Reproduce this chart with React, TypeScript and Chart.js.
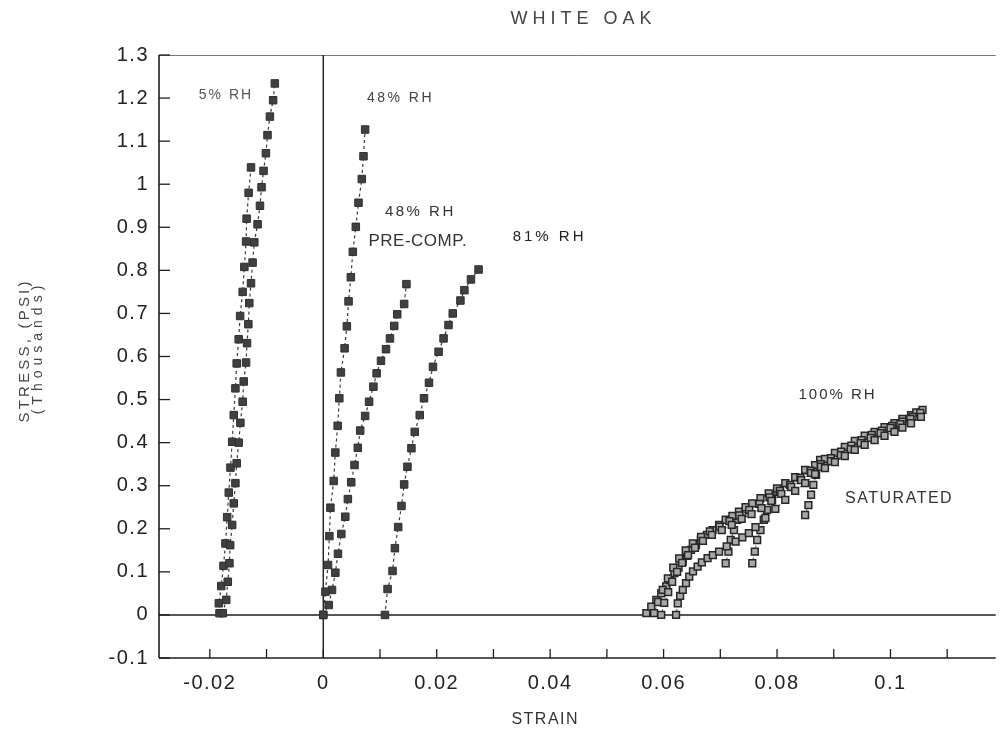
import { useEffect, useRef } from "react";
import { Chart, registerables } from "chart.js";

Chart.register(...registerables);

type P = [number, number];

// ---- data (strain, stress in thousands psi) ----
const RH5_A: P[] = [
  [-0.01771, 0.004], [-0.01711, 0.035], [-0.01683, 0.077], [-0.01654, 0.12], [-0.01641, 0.162],
  [-0.01606, 0.209], [-0.01578, 0.259], [-0.01549, 0.306], [-0.01526, 0.352], [-0.01491, 0.4],
  [-0.01461, 0.446], [-0.01421, 0.495], [-0.01403, 0.542], [-0.01361, 0.586], [-0.01344, 0.631],
  [-0.01321, 0.675], [-0.01304, 0.724], [-0.01274, 0.77], [-0.01246, 0.818], [-0.01216, 0.865],
  [-0.01158, 0.907], [-0.01116, 0.95], [-0.01088, 0.993], [-0.01053, 1.031], [-0.01011, 1.072],
  [-0.00983, 1.114], [-0.00941, 1.157], [-0.00884, 1.195], [-0.00854, 1.234],
];
const RH5_B: P[] = [
  [-0.01829, 0.004], [-0.01841, 0.027], [-0.01799, 0.067], [-0.01759, 0.114], [-0.01724, 0.166],
  [-0.01694, 0.227], [-0.01666, 0.284], [-0.01636, 0.342], [-0.01606, 0.402], [-0.01578, 0.464],
  [-0.01549, 0.526], [-0.01526, 0.584], [-0.01491, 0.64], [-0.01466, 0.694], [-0.01421, 0.75],
  [-0.01391, 0.808], [-0.01361, 0.867], [-0.01351, 0.92], [-0.01316, 0.98], [-0.01274, 1.039],
];
const RH48: P[] = [
  [0, 0], [0.00038, 0.054], [0.00084, 0.116], [0.00108, 0.183], [0.00126, 0.249], [0.00184, 0.311],
  [0.00213, 0.377], [0.00254, 0.439], [0.00283, 0.503], [0.00311, 0.563], [0.00376, 0.619],
  [0.00416, 0.67], [0.00446, 0.728], [0.00486, 0.784], [0.00521, 0.843], [0.00574, 0.901],
  [0.00621, 0.957], [0.00679, 1.012], [0.00709, 1.065], [0.00738, 1.127],
];
const RH48_PRE: P[] = [
  [0, 0], [0.00096, 0.023], [0.00154, 0.058], [0.00213, 0.098], [0.00259, 0.142], [0.00318, 0.188],
  [0.00388, 0.228], [0.00434, 0.269], [0.00493, 0.308], [0.00551, 0.348], [0.00609, 0.388],
  [0.00651, 0.428], [0.00738, 0.462], [0.00808, 0.495], [0.00884, 0.53], [0.00941, 0.561],
  [0.01018, 0.59], [0.01106, 0.617], [0.01176, 0.642], [0.01251, 0.671], [0.01304, 0.698],
  [0.01426, 0.722], [0.01466, 0.768],
];
const RH81: P[] = [
  [0.01088, 0], [0.01134, 0.06], [0.01221, 0.102], [0.01263, 0.155], [0.01321, 0.204],
  [0.01379, 0.253], [0.01426, 0.303], [0.01484, 0.344], [0.01554, 0.387], [0.01613, 0.425],
  [0.01701, 0.464], [0.01776, 0.503], [0.01864, 0.539], [0.01934, 0.576], [0.02033, 0.611],
  [0.02121, 0.642], [0.02208, 0.673], [0.02283, 0.7], [0.02418, 0.73], [0.02488, 0.754],
  [0.02604, 0.779], [0.02738, 0.802],
];
const SAT_UPPER: P[] = [
  [0.05696, 0.004], [0.05783, 0.019], [0.05871, 0.035], [0.05958, 0.05], [0.06045, 0.066],
  [0.06115, 0.081], [0.06191, 0.097], [0.06264, 0.11], [0.06338, 0.124], [0.06413, 0.137],
  [0.06483, 0.151], [0.0657, 0.162], [0.06658, 0.174], [0.06763, 0.186], [0.06863, 0.197],
  [0.06978, 0.209], [0.07095, 0.221], [0.07213, 0.23], [0.07328, 0.24], [0.07445, 0.25],
  [0.07563, 0.259], [0.07708, 0.271], [0.07853, 0.282], [0.08, 0.294], [0.08145, 0.306],
  [0.0832, 0.32], [0.08495, 0.337], [0.0867, 0.348], [0.08845, 0.362], [0.0902, 0.376],
  [0.09195, 0.39], [0.0937, 0.404], [0.09545, 0.416], [0.0972, 0.425], [0.09895, 0.436],
  [0.1007, 0.445], [0.1021, 0.455], [0.10362, 0.464], [0.10455, 0.47], [0.10565, 0.476],
];
const SAT_MID: P[] = [
  [0.05958, 0], [0.06011, 0.028], [0.06081, 0.053], [0.06151, 0.077], [0.06238, 0.1],
  [0.06326, 0.121], [0.06431, 0.139], [0.06553, 0.156], [0.06693, 0.172], [0.06851, 0.186],
  [0.07026, 0.197], [0.07201, 0.209], [0.07376, 0.223], [0.0755, 0.234], [0.07725, 0.248],
  [0.079, 0.265], [0.08075, 0.281], [0.0825, 0.297], [0.08425, 0.313], [0.086, 0.33],
  [0.08775, 0.344], [0.0895, 0.357], [0.09125, 0.371], [0.093, 0.385], [0.09475, 0.399],
  [0.0965, 0.411], [0.09825, 0.422], [0.1, 0.434], [0.10175, 0.443], [0.1035, 0.455],
  [0.10525, 0.469],
];
const SAT_INNER: P[] = [
  [0.05832, 0.004], [0.05902, 0.03], [0.05985, 0.058], [0.06075, 0.085], [0.0617, 0.11],
  [0.06275, 0.131], [0.0639, 0.15], [0.06515, 0.166], [0.0666, 0.181], [0.06815, 0.194],
  [0.06985, 0.205], [0.0716, 0.218], [0.07335, 0.231], [0.0751, 0.244], [0.0769, 0.258],
  [0.0787, 0.273], [0.0805, 0.288], [0.0823, 0.302], [0.0841, 0.318], [0.0859, 0.335],
  [0.0877, 0.35], [0.0895, 0.364], [0.0913, 0.379], [0.0931, 0.393], [0.0949, 0.406],
  [0.0967, 0.418], [0.0985, 0.428], [0.1003, 0.439], [0.1021, 0.449], [0.1039, 0.46],
];
const SAT_LOWER: P[] = [
  [0.0622, 0], [0.0625, 0.027], [0.06291, 0.044], [0.06338, 0.058], [0.06395, 0.074],
  [0.06453, 0.089], [0.06518, 0.101], [0.066, 0.112], [0.06675, 0.122], [0.06775, 0.132],
  [0.06868, 0.139], [0.06978, 0.147], [0.07113, 0.159], [0.0727, 0.17], [0.07388, 0.18],
  [0.07503, 0.19], [0.0762, 0.204], [0.07795, 0.225], [0.0797, 0.246], [0.08145, 0.267],
  [0.0832, 0.288], [0.08495, 0.306], [0.0867, 0.327], [0.08845, 0.341], [0.0902, 0.355],
  [0.09195, 0.369], [0.0937, 0.383], [0.09545, 0.395], [0.0972, 0.406], [0.09895, 0.416],
  [0.1007, 0.425], [0.1021, 0.435], [0.10362, 0.445], [0.10537, 0.46],
];
const SAT_BRANCH_1: P[] = [
  [0.07095, 0.12], [0.07143, 0.147], [0.07183, 0.174], [0.07241, 0.197], [0.073, 0.221], [0.07388, 0.236],
];
const SAT_BRANCH_2: P[] = [
  [0.07563, 0.12], [0.07608, 0.147], [0.0765, 0.174], [0.07708, 0.197], [0.07766, 0.221],
  [0.07825, 0.244], [0.07913, 0.267], [0.08, 0.286],
];
const SAT_BRANCH_3: P[] = [
  [0.08495, 0.232], [0.08553, 0.255], [0.086, 0.279], [0.0864, 0.302], [0.08688, 0.325],
  [0.08728, 0.348], [0.0876, 0.36],
];

const X_TICKS = [-0.02, -0.01, 0, 0.01, 0.02, 0.03, 0.04, 0.05, 0.06, 0.07, 0.08, 0.09, 0.1, 0.11];
const X_TICK_LABELS = ["-0.02", "", "0", "", "0.02", "", "0.04", "", "0.06", "", "0.08", "", "0.1", ""];
const Y_TICKS = [-0.1, 0, 0.1, 0.2, 0.3, 0.4, 0.5, 0.6, 0.7, 0.8, 0.9, 1, 1.1, 1.2, 1.3];
const Y_TICK_LABELS = ["-0.1", "0", "0.1", "0.2", "0.3", "0.4", "0.5", "0.6", "0.7", "0.8", "0.9", "1", "1.1", "1.2", "1.3"];

const X_MIN = -0.02896;
const X_MAX = 0.11855;
const Y_MIN = -0.1;
const Y_MAX = 1.3;

const TITLE = "WHITE OAK";
const X_TITLE = "STRAIN";
const Y_TITLE_1 = "STRESS, (PSI)";
const Y_TITLE_2 = "(Thousands)";

type Note = { text: string; x: number; y: number; size: number; spacing: number; color: string };
const NOTES: Note[] = [
  { text: "5% RH", x: -0.01733, y: 1.207, size: 14, spacing: 2, color: "#555" },
  { text: "48% RH", x: 0.01339, y: 1.2, size: 14, spacing: 2.5, color: "#444" },
  { text: "48% RH", x: 0.01689, y: 0.936, size: 15, spacing: 2.5, color: "#333" },
  { text: "PRE-COMP.", x: 0.01662, y: 0.868, size: 17, spacing: 0.5, color: "#333" },
  { text: "81% RH", x: 0.03963, y: 0.877, size: 15, spacing: 3, color: "#222" },
  { text: "100% RH", x: 0.0905, y: 0.512, size: 15, spacing: 2, color: "#333" },
  { text: "SATURATED", x: 0.10139, y: 0.27, size: 16, spacing: 1.5, color: "#333" },
];

const toPts = (arr: P[]) => arr.map(([x, y]) => ({ x, y }));

const solidStyle = {
  showLine: true,
  borderColor: "#3a3a3a",
  borderWidth: 1.2,
  borderDash: [3, 3],
  pointStyle: "rect" as const,
  pointRadius: 5.3,
  pointBackgroundColor: "#404040",
  pointBorderColor: "#303030",
  pointBorderWidth: 1,
  fill: false,
};
const satStyle = {
  showLine: true,
  borderColor: "#444",
  borderWidth: 1,
  borderDash: [2, 2],
  pointStyle: "rect" as const,
  pointRadius: 4.8,
  pointBackgroundColor: "#a8a8a8",
  pointBorderColor: "#262626",
  pointBorderWidth: 1.5,
  fill: false,
};

const framePlugin = {
  id: "frame",
  beforeDraw(chart: any) {
    (chart.ctx as any).letterSpacing = "1.5px";
  },
  beforeDatasetsDraw(chart: any) {
    const { ctx, chartArea: a, scales } = chart;
    (ctx as any).letterSpacing = "0px";
    const xs = scales.x;
    const ys = scales.y;
    const line = (x1: number, y1: number, x2: number, y2: number) => {
      ctx.beginPath();
      ctx.moveTo(x1, y1);
      ctx.lineTo(x2, y2);
      ctx.stroke();
    };
    ctx.save();
    ctx.strokeStyle = "#777";
    ctx.lineWidth = 1;
    line(a.left, a.top + 0.5, a.right, a.top + 0.5);
    ctx.strokeStyle = "#1e1e1e";
    ctx.lineWidth = 1.6;
    line(a.left, a.top, a.left, a.bottom);
    line(a.left, a.bottom, a.right, a.bottom);
    const x0 = xs.getPixelForValue(0);
    const y0 = ys.getPixelForValue(0);
    ctx.lineWidth = 1.4;
    line(x0, a.top, x0, a.bottom);
    line(a.left, y0, a.right, y0);
    ctx.lineWidth = 1.3;
    Y_TICKS.forEach((v) => {
      const py = ys.getPixelForValue(v);
      line(a.left, py, a.left + 11, py);
    });
    X_TICKS.forEach((v) => {
      const px = xs.getPixelForValue(v);
      line(px, a.bottom, px, a.bottom - 9);
    });
    ctx.restore();
  },
  afterDraw(chart: any) {
    const { ctx, chartArea: a, scales } = chart;
    const xs = scales.x;
    const ys = scales.y;
    ctx.save();
    ctx.textAlign = "center";
    ctx.textBaseline = "middle";
    const txt = (s: string, x: number, y: number, size: number, spacing: number, color: string) => {
      ctx.font = `${size}px "Liberation Sans", Arial, sans-serif`;
      (ctx as any).letterSpacing = `${spacing}px`;
      ctx.fillStyle = color;
      ctx.fillText(s, x + spacing / 2, y);
    };
    NOTES.forEach((n) => {
      txt(n.text, xs.getPixelForValue(n.x), ys.getPixelForValue(n.y), n.size, n.spacing, n.color);
    });
    txt(TITLE, 581, 19, 18, 5, "#444");
    txt(X_TITLE, (a.left + 930) / 2, 720, 16, 1.5, "#333");
    ctx.save();
    ctx.translate(25, 352);
    ctx.rotate(-Math.PI / 2);
    txt(Y_TITLE_1, 0, 0, 15, 3.2, "#444");
    ctx.restore();
    ctx.save();
    ctx.translate(38, 350);
    ctx.rotate(-Math.PI / 2);
    txt(Y_TITLE_2, 0, 0, 14, 5, "#444");
    ctx.restore();
    (ctx as any).letterSpacing = "0px";
    ctx.restore();
  },
};

export default function App() {
  const ref = useRef<HTMLCanvasElement | null>(null);
  useEffect(() => {
    if (!ref.current) return;
    const chart = new Chart(ref.current, {
      type: "scatter",
      data: {
        datasets: [
          { label: "SAT_LOWER", data: toPts(SAT_LOWER), ...satStyle },
          { label: "SAT_MID", data: toPts(SAT_MID), ...satStyle },
          { label: "SAT_INNER", data: toPts(SAT_INNER), ...satStyle },
          { label: "SAT_UPPER", data: toPts(SAT_UPPER), ...satStyle },
          { label: "SAT_B1", data: toPts(SAT_BRANCH_1), ...satStyle },
          { label: "SAT_B2", data: toPts(SAT_BRANCH_2), ...satStyle },
          { label: "SAT_B3", data: toPts(SAT_BRANCH_3), ...satStyle },
          { label: "5% RH A", data: toPts(RH5_A), ...solidStyle },
          { label: "5% RH B", data: toPts(RH5_B), ...solidStyle },
          { label: "48% RH", data: toPts(RH48), ...solidStyle },
          { label: "48% RH PRE-COMP.", data: toPts(RH48_PRE), ...solidStyle },
          { label: "81% RH", data: toPts(RH81), ...solidStyle },
        ] as any,
      },
      options: {
        animation: false,
        responsive: true,
        maintainAspectRatio: false,
        layout: { padding: { top: 55, left: 0, right: 0, bottom: 0 } },
        plugins: {
          legend: { display: false },
          title: { display: false },
          tooltip: { enabled: false },
        },
        scales: {
          x: {
            type: "linear",
            min: X_MIN,
            max: X_MAX,
            grid: { display: false, drawTicks: false },
            border: { display: false },
            afterFit: (s: any) => {
              s.height = 76;
            },
            afterBuildTicks: (s: any) => {
              s.ticks = X_TICKS.map((v) => ({ value: v }));
            },
            ticks: {
              autoSkip: false,
              maxRotation: 0,
              padding: 13,
              color: "#222",
              font: { family: '"Liberation Sans", Arial, sans-serif', size: 20 },
              callback: (v: any) => {
                const i = X_TICKS.findIndex((t) => Math.abs(t - Number(v)) < 1e-9);
                return i >= 0 ? X_TICK_LABELS[i] : "";
              },
            },
          },
          y: {
            type: "linear",
            min: Y_MIN,
            max: Y_MAX,
            grid: { display: false, drawTicks: false },
            border: { display: false },
            afterFit: (s: any) => {
              s.width = 159;
            },
            afterBuildTicks: (s: any) => {
              s.ticks = Y_TICKS.map((v) => ({ value: v }));
            },
            ticks: {
              autoSkip: false,
              padding: 10,
              color: "#222",
              font: { family: '"Liberation Sans", Arial, sans-serif', size: 20 },
              callback: (v: any) => {
                const i = Y_TICKS.findIndex((t) => Math.abs(t - Number(v)) < 1e-9);
                return i >= 0 ? Y_TICK_LABELS[i] : "";
              },
            },
          },
        },
      },
      plugins: [framePlugin],
    });
    return () => chart.destroy();
  }, []);

  return (
    <div style={{ position: "absolute", left: 0, top: 0, width: 1002, height: 734, background: "#fff" }}>
      <canvas ref={ref} />
    </div>
  );
}
